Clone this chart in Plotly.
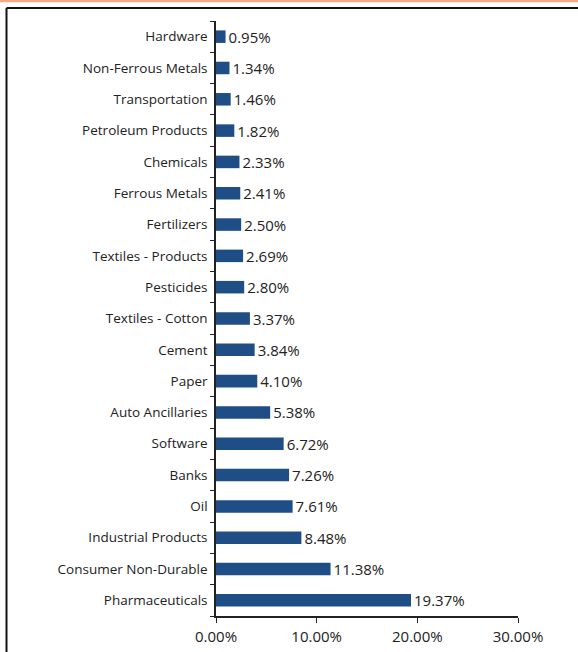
import plotly.graph_objects as go

categories = ["Pharmaceuticals", "Consumer Non-Durable", "Industrial Products", "Oil", "Banks",
              "Software", "Auto Ancillaries", "Paper", "Cement", "Textiles - Cotton",
              "Pesticides", "Textiles - Products", "Fertilizers", "Ferrous Metals", "Chemicals",
              "Petroleum Products", "Transportation", "Non-Ferrous Metals", "Hardware"]
values = [19.37, 11.38, 8.48, 7.61, 7.26, 6.72, 5.38, 4.10, 3.84, 3.37,
          2.80, 2.69, 2.50, 2.41, 2.33, 1.82, 1.46, 1.34, 0.95]
tick_vals = [0, 10, 20, 30]
tick_text = ["0.00%", "10.00%", "20.00%", "30.00%"]

FONT = "Open Sans, sans-serif"
FS = 13.5
FN = 15

fig = go.Figure(go.Bar(
    x=values, y=categories, orientation="h",
    marker=dict(color="#1F4E87", line=dict(width=0)),
    text=[f"{v:.2f}%" for v in values], textposition="outside",
    constraintext="none",
    textfont=dict(family=FONT, size=FN, color="#222222"),
    cliponaxis=False, hoverinfo="skip",
))

fig.update_layout(
    width=578, height=652,
    margin=dict(l=216, r=60, t=21, b=36, autoexpand=False),
    paper_bgcolor="white", plot_bgcolor="white",
    bargap=0.6, showlegend=False,
    font=dict(family=FONT, size=FS, color="#222222"),
    xaxis=dict(range=[0, 30], tickvals=tick_vals, ticktext=tick_text,
               showgrid=False, zeroline=False, showline=True, linecolor="#222222",
               linewidth=1.5, ticks="outside", ticklen=5, tickcolor="#222222",
               ticklabelstandoff=1,
               tickfont=dict(family=FONT, size=FN, color="#222222")),
    yaxis=dict(type="category", range=[-0.5, 18.5], showgrid=False, zeroline=False,
               showline=True, linecolor="#222222", linewidth=1.5,
               ticks="outside", ticklen=4, tickcolor="#222222", tickson="boundaries",
               ticklabelstandoff=4,
               tickfont=dict(family=FONT, size=FS, color="#222222")),
    shapes=[
        dict(type="rect", xref="paper", yref="paper",
             x0=-216/302, x1=362/302, y0=613.7/595, y1=617/595,
             fillcolor="#F4A984", line=dict(width=0), layer="above"),
        dict(type="line", xref="paper", yref="paper",
             x0=-209.5/302, x1=362/302, y0=608/595, y1=608/595,
             line=dict(color="#111111", width=2)),
        dict(type="line", xref="paper", yref="paper",
             x0=-209.5/302, x1=-209.5/302, y0=608/595, y1=-40/595,
             line=dict(color="#111111", width=2)),
    ],
)

fig.write_html("out.html")
